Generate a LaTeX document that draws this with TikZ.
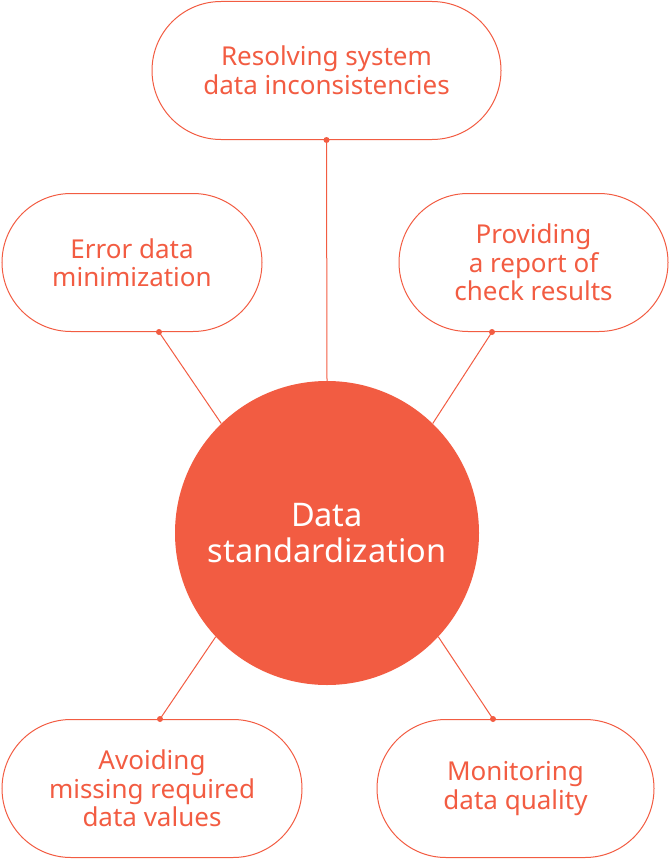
\documentclass[tikz,border=0pt]{standalone}
\usepackage{fontspec}
\setmainfont{Noto Sans}
\usepackage{tikz}
\usetikzlibrary{positioning}
\definecolor{coral}{HTML}{F25C42}

\begin{document}
\begin{tikzpicture}[x=1pt,y=-1pt,
  pill/.style={draw=coral, line width=1pt, rounded corners=69pt, minimum height=138pt,
    align=center, text=coral, font=\fontsize{26}{28.5}\selectfont, inner sep=0pt},
  hubnode/.style={circle, fill=coral, minimum size=304pt, inner sep=0pt,
    align=center, text=white, font=\fontsize{32.5}{36}\selectfont},
  link/.style={draw=coral, line width=1pt},
  dot/.style={fill=coral}]
\useasboundingbox (0,0) rectangle (670,859);
\node [hubnode] (hub) at (327,533) {Data\\standardization};
\node [pill, minimum width=349pt] (resolve) at (326.5,70.5) {Resolving system\\data inconsistencies};
\node [pill, minimum width=260pt] (error) at (132,262.5) {Error data\\minimization};
\node [pill, minimum width=269pt] (report) at (533.5,262.5) {Providing\\a report of\\check results};
\node [pill, minimum width=300pt] (avoid) at (152,788.5) {Avoiding\\missing required\\data values};
\node [pill, minimum width=277pt] (monitor) at (515.5,788.5) {Monitoring\\data quality};
% points where the links meet the pills
\coordinate (errdot) at (159,332);
\coordinate (repdot) at (492,332);
\coordinate (avdot) at (160,719);
\coordinate (mondot) at (493,719);
% links
\draw [link] (resolve.south)--(hub.north);
\draw [link] (errdot)--(hub.134);
\draw [link] (repdot)--(hub.46);
\draw [link] (avdot)--(hub.-137);
\draw [link] (mondot)--(hub.-43);
\foreach \p in {resolve.south,errdot,repdot,avdot,mondot}
  \fill [dot] (\p) circle (3pt);
\end{tikzpicture}
\end{document}
